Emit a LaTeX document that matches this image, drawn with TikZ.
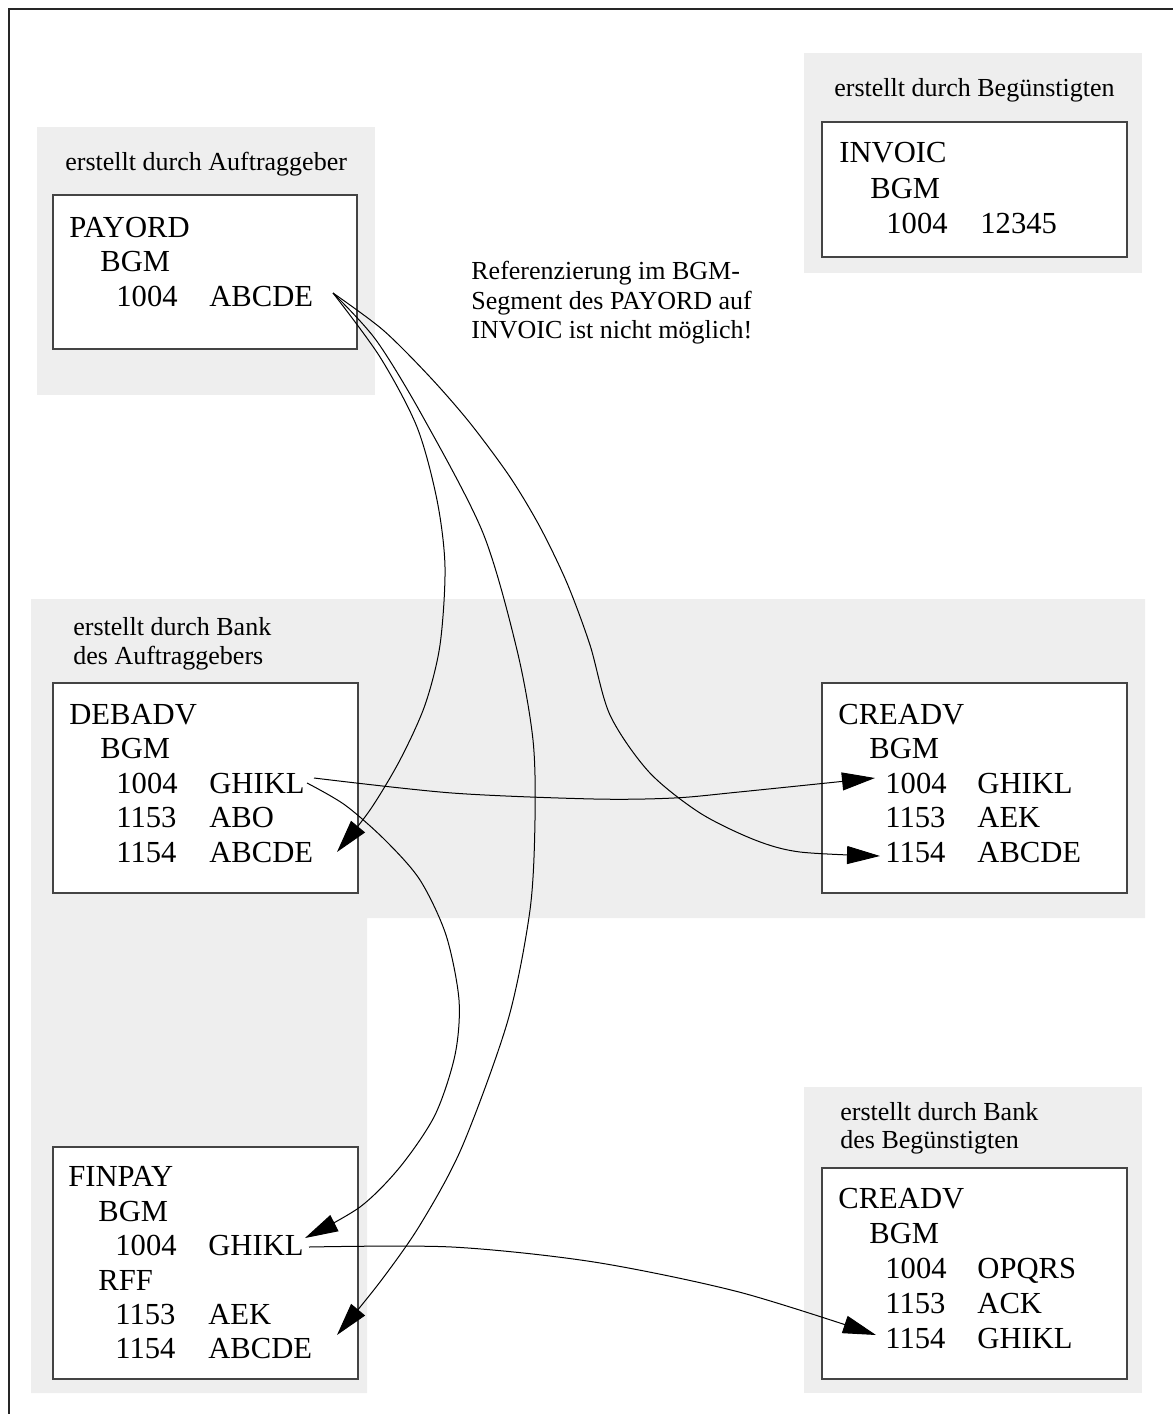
\documentclass[tikz,border=0pt]{standalone}
\usepackage{fontspec}
\setmainfont{Liberation Serif}
\usetikzlibrary{arrows.meta}
\definecolor{panel}{HTML}{EEEEEE}
\definecolor{edge}{HTML}{444444}

\begin{document}
\begin{tikzpicture}[x=0.5pt,y=-0.5pt,
  panelfill/.style={fill=panel},
  msgbox/.style={draw=edge, line width=0.6pt, fill=white},
  seg/.style={anchor=base west, inner sep=0pt, font=\fontsize{15.3}{18}\selectfont},
  caption/.style={anchor=base west, inner sep=0pt, font=\fontsize{13}{15}\selectfont},
  link/.style={line width=0.5pt, -{Triangle[length=16.5pt,width=9pt]}},
  curve/.style={smooth, tension=0.5}
]
\useasboundingbox (0,0) rectangle (1173,1414);

% outer frame
\draw[line width=0.8pt, black!85] (9,1414) -- (9,9) -- (1173,9);

% shaded areas for each originator
\fill[panelfill] (37,127) rectangle (375,395);
\fill[panelfill] (804,53) rectangle (1142,273);
\fill[panelfill] (31,599) -- (1145,599) -- (1145,918) -- (367,918) -- (367,1393) -- (31,1393) -- cycle;
\fill[panelfill] (804,1087) rectangle (1142,1393);

% message boxes
\draw[msgbox] (53,195) rectangle (357,349);
\draw[msgbox] (822,122) rectangle (1127,257);
\draw[msgbox] (53,683) rectangle (358,893);
\draw[msgbox] (822,683) rectangle (1127,893);
\draw[msgbox] (53,1147) rectangle (358,1379);
\draw[msgbox] (822,1168) rectangle (1127,1379);

% PAYORD
\node[caption] (capP) at (65,170) {erstellt durch Auftraggeber};
\node[seg] (pT) at (69,237) {PAYORD};
\node[seg] (pB) at (100,271) {BGM};
\node[seg] (pN) at (116,306) {1004};
\node[seg] (pV) at (209,306) {ABCDE};

% INVOIC
\node[caption] (capI) at (834,96) {erstellt durch Begünstigten};
\node[seg] (iT) at (839,162) {INVOIC};
\node[seg] (iB) at (870,198) {BGM};
\node[seg] (iN) at (886,233) {1004};
\node[seg] (iV) at (980,233) {12345};

% note
\node[caption] (n1) at (471,279) {Referenzierung im BGM-};
\node[caption] (n2) at (471,309) {Segment des PAYORD auf};
\node[caption] (n3) at (471,338) {INVOIC ist nicht möglich!};

% DEBADV
\node[caption] (capD1) at (73,635) {erstellt durch Bank};
\node[caption] (capD2) at (73,664) {des Auftraggebers};
\node[seg] (dT) at (69,724) {DEBADV};
\node[seg] (dB) at (100,758) {BGM};
\node[seg] (dN1) at (116,793) {1004};
\node[seg] (dV1) at (209,793) {GHIKL};
\node[seg] (dN2) at (116,827) {1153};
\node[seg] (dV2) at (209,827) {ABO};
\node[seg] (dN3) at (116,862) {1154};
\node[seg] (dV3) at (209,862) {ABCDE};

% CREADV (bank of the principal)
\node[seg] (cT) at (838,724) {CREADV};
\node[seg] (cB) at (869,758) {BGM};
\node[seg] (cN1) at (885,793) {1004};
\node[seg] (cV1) at (977,793) {GHIKL};
\node[seg] (cN2) at (885,827) {1153};
\node[seg] (cV2) at (977,827) {AEK};
\node[seg] (cN3) at (885,862) {1154};
\node[seg] (cV3) at (977,862) {ABCDE};

% FINPAY
\node[seg] (fT) at (68,1186) {FINPAY};
\node[seg] (fB) at (98,1221) {BGM};
\node[seg] (fN1) at (115,1255) {1004};
\node[seg] (fV1) at (208,1255) {GHIKL};
\node[seg] (fR) at (98,1290) {RFF};
\node[seg] (fN2) at (115,1324) {1153};
\node[seg] (fV2) at (208,1324) {AEK};
\node[seg] (fN3) at (115,1358) {1154};
\node[seg] (fV3) at (208,1358) {ABCDE};

% CREADV (bank of the beneficiary)
\node[caption] (capB1) at (840,1120) {erstellt durch Bank};
\node[caption] (capB2) at (840,1148) {des Begünstigten};
\node[seg] (bT) at (838,1208) {CREADV};
\node[seg] (bB) at (869,1243) {BGM};
\node[seg] (bN1) at (885,1278) {1004};
\node[seg] (bV1) at (977,1278) {OPQRS};
\node[seg] (bN2) at (885,1313) {1153};
\node[seg] (bV2) at (977,1313) {ACK};
\node[seg] (bN3) at (885,1348) {1154};
\node[seg] (bV3) at (977,1348) {GHIKL};

% connector end points
\coordinate (pA) at (333,293);
\coordinate (dA) at (337,852);
\coordinate (fA) at (337,1335);
\coordinate (cA) at (880,856);
\coordinate (dG1) at (314,778);
\coordinate (dG2) at (307,783);
\coordinate (cG) at (875,778);
\coordinate (fG) at (305,1238);
\coordinate (fGs) at (309,1247);
\coordinate (bG) at (876,1335);

% references of the ABCDE value
\draw[link] plot[curve] coordinates {(pA) (380,357) (417,427) (437,500) (445,567) (440,645) (425,705) (400,760) (370,810) (dA)};
\draw[link] plot[curve] coordinates {(pA) (376,340) (423,417) (483,533) (517,650) (533,740) (535,820) (530,910) (508,1020) (462,1147) (420,1225) (380,1282) (fA)};
\draw[link] plot[curve] coordinates {(pA) (383,330) (430,377) (470,423) (510,477) (540,527) (567,583) (590,645) (610,715) (649,772) (700,813) (755,840) (800,852) (cA)};

% references of the GHIKL value
\draw[link] plot[curve] coordinates {(dG1) (452,793) (594,799) (674,798) (739,792) (cG)};
\draw[link] plot[curve] coordinates {(dG2) (345,805) (385,840) (420,880) (446,935) (459,1000) (455,1055) (435,1115) (400,1167) (360,1207) (fG)};
\draw[link] plot[curve] coordinates {(fGs) (452,1247) (594,1262) (739,1292) (bG)};
\end{tikzpicture}
\end{document}
